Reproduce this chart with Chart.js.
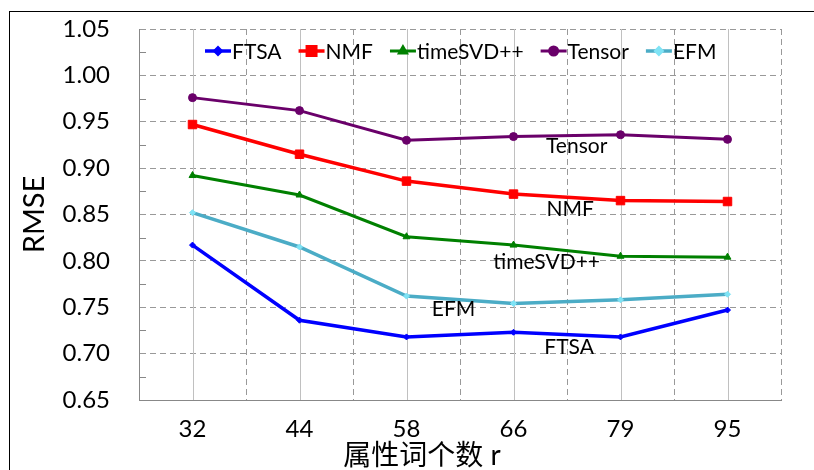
<!DOCTYPE html>
<html lang="zh">
<head>
    <meta charset="UTF-8">
    <title>RMSE vs 属性词个数 r</title>
    <script src="https://cdn.jsdelivr.net/npm/chart.js"></script>
    <style>
        html, body { margin: 0; padding: 0; background: #fff; }
        #wrap { width: 814px; height: 470px; }
    </style>
</head>
<body>
    <div id="wrap"><canvas id="myChart"></canvas></div>
    <script>
        // data
        const categories = ['32', '44', '58', '66', '79', '95'];
        const ftsa     = [0.817, 0.736, 0.718, 0.723, 0.718, 0.747];
        const nmf      = [0.947, 0.915, 0.886, 0.872, 0.865, 0.864];
        const timeSVD  = [0.892, 0.871, 0.826, 0.817, 0.805, 0.804];
        const tensor   = [0.976, 0.962, 0.930, 0.934, 0.936, 0.931];
        const efm      = [0.852, 0.815, 0.762, 0.754, 0.758, 0.764];
        const yTicks   = [0.65, 0.70, 0.75, 0.80, 0.85, 0.90, 0.95, 1.00, 1.05];
        const xTitle   = '属性词个数 r';

        const FONT = 'Lato, "Noto Sans CJK SC", sans-serif';

        // text labels next to each line (category index, value)
        const lineLabels = [
            { text: 'Tensor',    x: 3.59, y: 0.924 },
            { text: 'NMF',       x: 3.53, y: 0.856 },
            { text: 'timeSVD++', x: 3.31, y: 0.799 },
            { text: 'EFM',       x: 2.44, y: 0.748 },
            { text: 'FTSA',      x: 3.52, y: 0.707 }
        ];

        const extras = {
            id: 'extras',
            beforeDraw(chart) {
                const ctx = chart.ctx;
                ctx.save();
                ctx.fillStyle = '#fff';
                ctx.fillRect(0, 0, chart.width, chart.height);
                ctx.strokeStyle = '#000';
                ctx.lineWidth = 1;
                ctx.strokeRect(9.5, 11.5, chart.width, chart.height);
                ctx.restore();
            },
            beforeDatasetsDraw(chart) {
                const ctx = chart.ctx, x = chart.scales.x, y = chart.scales.y;
                const a = chart.chartArea;
                ctx.save();
                // solid lines at each category
                ctx.strokeStyle = '#c0c0c0';
                ctx.lineWidth = 1;
                categories.forEach((c, i) => {
                    const px = Math.round(x.getPixelForValue(i)) + 0.5;
                    ctx.beginPath();
                    ctx.moveTo(px, a.top);
                    ctx.lineTo(px, a.bottom);
                    ctx.stroke();
                });
                // minor tick marks
                ctx.strokeStyle = '#888';
                for (let i = 0; i < yTicks.length - 1; i++) {
                    const py = Math.round(y.getPixelForValue((yTicks[i] + yTicks[i + 1]) / 2)) + 0.5;
                    ctx.beginPath();
                    ctx.moveTo(a.left, py);
                    ctx.lineTo(a.left + 7, py);
                    ctx.stroke();
                }
                ctx.restore();
            },
            afterDatasetsDraw(chart) {
                const ctx = chart.ctx, x = chart.scales.x, y = chart.scales.y;
                const a = chart.chartArea;
                ctx.save();
                // labels beside lines
                ctx.font = '21px ' + FONT;
                ctx.fillStyle = '#000';
                ctx.textAlign = 'center';
                ctx.textBaseline = 'middle';
                lineLabels.forEach(l => {
                    ctx.fillText(l.text, x.getPixelForValue(l.x), y.getPixelForValue(l.y));
                });
                // x axis title, sits a bit left of centre like the original
                ctx.font = '28px ' + FONT;
                ctx.fillText(xTitle, (a.left + a.right) / 2 - 38, 456);
                // legend inside plot
                ctx.font = '21px ' + FONT;
                ctx.textAlign = 'left';
                let lx = a.left + 66;
                const ly = a.top + 22;
                chart.data.datasets.forEach((ds, i) => {
                    ctx.strokeStyle = ds.borderColor;
                    ctx.lineWidth = ds.borderWidth;
                    ctx.beginPath();
                    ctx.moveTo(lx, ly);
                    ctx.lineTo(lx + 26, ly);
                    ctx.stroke();
                    ctx.fillStyle = ds.pointBackgroundColor;
                    ctx.strokeStyle = ds.pointBorderColor;
                    Chart.helpers.drawPoint(ctx, {
                        pointStyle: ds.pointStyle,
                        radius: ds.pointRadius,
                        borderWidth: 1
                    }, lx + 13, ly);
                    ctx.fillStyle = '#000';
                    ctx.fillText(ds.label, lx + 27, ly + 1);
                    lx += 27 + ctx.measureText(ds.label).width + 17;
                });
                ctx.restore();
            }
        };

        function series(label, data, color, pointColor, style, radius, width) {
            return {
                label: label,
                data: data,
                borderColor: color,
                backgroundColor: pointColor,
                pointBackgroundColor: pointColor,
                pointBorderColor: pointColor,
                pointStyle: style,
                pointRadius: radius,
                pointBorderWidth: 1,
                borderWidth: width,
                tension: 0
            };
        }

        const ctx = document.getElementById('myChart').getContext('2d');
        const myChart = new Chart(ctx, {
            type: 'line',
            data: {
                labels: categories,
                datasets: [
                    series('FTSA', ftsa, '#0000ff', '#0000ff', 'rectRot', 3, 3.5),
                    series('NMF', nmf, '#ff0000', '#ff0000', 'rect', 6, 3.5),
                    series('timeSVD++', timeSVD, '#008000', '#008000', 'triangle', 4, 3),
                    series('Tensor', tensor, '#6a006a', '#6a006a', 'circle', 4, 3),
                    series('EFM', efm, '#4bacc6', '#7fe3f5', 'rectRot', 3, 3.5)
                ]
            },
            options: {
                responsive: true,
                maintainAspectRatio: false,
                animation: false,
                layout: { padding: { left: 0, right: 33, top: 29, bottom: 0 } },
                plugins: {
                    legend: { display: false },
                    tooltip: { enabled: false }
                },
                scales: {
                    x: {
                        offset: true,
                        afterFit: s => { s.height = 70; },
                        grid: {
                            offset: true,
                            color: '#999',
                            drawTicks: false
                        },
                        border: { display: true, color: '#888', dash: [6, 4] },
                        ticks: {
                            color: '#000',
                            padding: 15,
                            font: { family: FONT, size: 24 }
                        }
                    },
                    y: {
                        min: 0.65,
                        max: 1.05,
                        afterFit: s => { s.width = 139; },
                        afterBuildTicks: s => { s.ticks = yTicks.map(v => ({ value: v })); },
                        grid: {
                            color: '#999',
                            drawTicks: true,
                            tickLength: 29,
                            tickColor: 'rgba(0,0,0,0)'
                        },
                        border: { display: true, color: '#888', dash: [6, 4] },
                        ticks: {
                            color: '#000',
                            padding: 0,
                            font: { family: FONT, size: 24 },
                            callback: v => v.toFixed(2)
                        },
                        title: {
                            display: true,
                            text: 'RMSE',
                            color: '#000',
                            padding: { top: 17, bottom: 0 },
                            font: { family: FONT, size: 29 }
                        }
                    }
                }
            },
            plugins: [extras]
        });
    </script>
</body>
</html>
